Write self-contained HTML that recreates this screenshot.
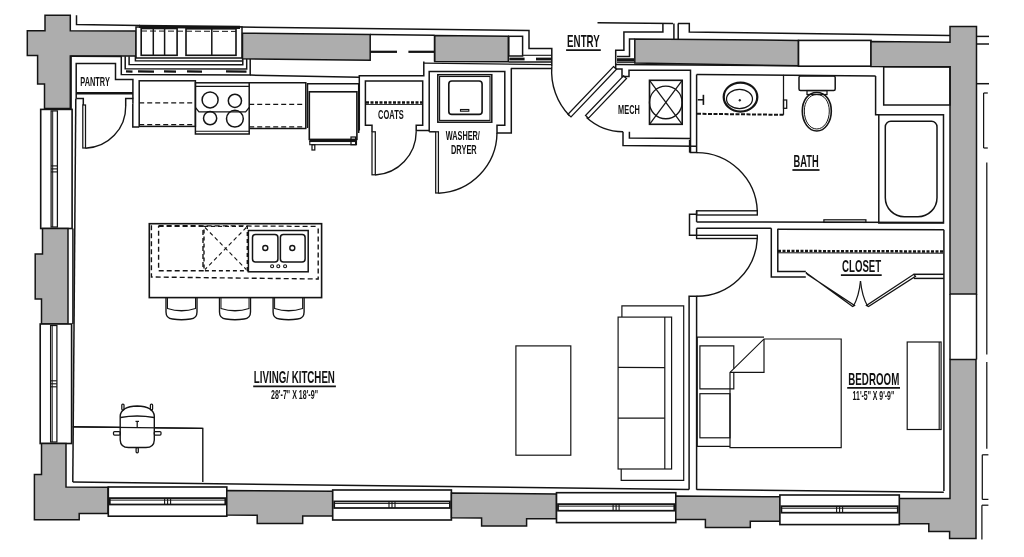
<!DOCTYPE html>
<html><head><meta charset="utf-8"><style>
html,body{margin:0;padding:0;background:#fff;}
svg{display:block;filter:grayscale(100%);}
text{font-family:"Liberation Sans",sans-serif;fill:#111;}
</style></head><body>
<svg width="1024" height="557" viewBox="0 0 1024 557">
<defs>
<pattern id="st" width="6" height="6" patternUnits="userSpaceOnUse">
<rect width="6" height="6" fill="#adadad"/>
</pattern>
</defs>
<rect width="1024" height="557" fill="#fff"/>
<polygon points="45,15.3 70.3,15.3 70.3,30.7 136,31 136,56 70.3,56 70.3,108.5 44.5,108.5 44.5,84 37.6,84 37.6,55.5 27.3,55.5 27.3,30.7 45,30.7" fill="url(#st)" stroke="#141414" stroke-width="1.50"/>
<polyline points="76.5,15.3 76.5,24.4 140,25.6" fill="none" stroke="#141414" stroke-width="1.50"/>
<polyline points="240,27 529,30.4 529,48.6 551.8,48.6 551.8,66.5" fill="none" stroke="#141414" stroke-width="1.50"/>
<rect x="136" y="27" width="106" height="31" fill="#fff" stroke="#141414" stroke-width="1.50"/>
<line x1="139" y1="26.4" x2="240" y2="27.4" stroke="#141414" stroke-width="3.25"/>
<rect x="141.2" y="28.5" width="35.9" height="26.8" fill="none" stroke="#141414" stroke-width="1.62"/>
<line x1="153.3" y1="28.5" x2="153.3" y2="55.3" stroke="#141414" stroke-width="1.50"/>
<line x1="164.6" y1="28.5" x2="164.6" y2="55.3" stroke="#141414" stroke-width="1.50"/>
<rect x="186" y="28.8" width="50" height="26.5" fill="none" stroke="#141414" stroke-width="1.62"/>
<line x1="211.8" y1="28.8" x2="211.8" y2="55.3" stroke="#141414" stroke-width="1.50"/>
<line x1="141" y1="31" x2="236" y2="31.4" stroke="#141414" stroke-width="1.00" stroke-dasharray="6,3"/>
<polyline points="121.3,56.3 121.3,74.6 250.2,74.9 250.2,58.8" fill="none" stroke="#141414" stroke-width="1.50"/>
<polyline points="125.2,56.3 125.2,68.8 246.7,69.1 246.7,58.8" fill="none" stroke="#141414" stroke-width="1.50"/>
<polyline points="129.1,56.3 129.1,64.4 242.8,64.7 242.8,58.8" fill="none" stroke="#141414" stroke-width="1.50"/>
<polyline points="135.4,56 135.4,60.7 242.8,60.9" fill="none" stroke="#141414" stroke-width="1.50"/>
<line x1="126" y1="71.4" x2="132.5" y2="71.6" stroke="#141414" stroke-width="2.25"/>
<line x1="138" y1="71.4" x2="154" y2="71.6" stroke="#141414" stroke-width="2.25"/>
<line x1="164" y1="71.4" x2="176" y2="71.6" stroke="#141414" stroke-width="2.25"/>
<line x1="187" y1="71.4" x2="202" y2="71.6" stroke="#141414" stroke-width="2.25"/>
<line x1="226" y1="71.4" x2="246.5" y2="71.6" stroke="#141414" stroke-width="2.25"/>
<polygon points="242.5,33.2 370.2,34.6 370.2,60.3 242.5,58.8" fill="url(#st)" stroke="#141414" stroke-width="1.50"/>
<line x1="370.2" y1="34.6" x2="434.5" y2="35.3" stroke="#141414" stroke-width="1.50"/>
<line x1="370.2" y1="51.8" x2="397" y2="51.8" stroke="#141414" stroke-width="2.25"/>
<line x1="408.4" y1="51.8" x2="434.5" y2="51.8" stroke="#141414" stroke-width="2.25"/>
<line x1="434.5" y1="35.3" x2="434.5" y2="61.7" stroke="#141414" stroke-width="1.50"/>
<polygon points="434.8,35.4 508.3,36.3 508.3,61.8 434.8,61.4" fill="url(#st)" stroke="#141414" stroke-width="1.50"/>
<rect x="508.8" y="36.3" width="13.8" height="19.7" fill="none" stroke="#141414" stroke-width="1.50"/>
<line x1="522.6" y1="55.3" x2="551.8" y2="55.3" stroke="#141414" stroke-width="1.12"/>
<line x1="509.3" y1="59" x2="524.6" y2="59" stroke="#141414" stroke-width="2.75"/>
<line x1="536" y1="59" x2="551.8" y2="59" stroke="#141414" stroke-width="2.75"/>
<line x1="508.8" y1="62" x2="551.8" y2="62" stroke="#141414" stroke-width="1.50"/>
<line x1="510.8" y1="68.4" x2="551.8" y2="68.4" stroke="#141414" stroke-width="1.50"/>
<polyline points="597.5,22.8 673,23.5" fill="none" stroke="#141414" stroke-width="1.50"/>
<line x1="673.9" y1="23.5" x2="673.9" y2="38.9" stroke="#141414" stroke-width="1.50"/>
<line x1="678.2" y1="23.5" x2="678.2" y2="38.9" stroke="#141414" stroke-width="1.50"/>
<polyline points="678,23.5 689.3,23.5 689.3,32 950,35.4" fill="none" stroke="#141414" stroke-width="1.50"/>
<polyline points="662.9,23.5 662.9,32 623.9,32 623.9,50.2 615.7,50.2 615.7,69" fill="none" stroke="#141414" stroke-width="1.50"/>
<polyline points="617,56.5 629.5,56.5 629.5,38.9 634.6,38.9" fill="none" stroke="#141414" stroke-width="1.50"/>
<line x1="617" y1="59.6" x2="634" y2="59.6" stroke="#141414" stroke-width="2.75"/>
<line x1="617" y1="62.1" x2="634.6" y2="62.1" stroke="#141414" stroke-width="1.50"/>
<line x1="615.7" y1="64.5" x2="950" y2="66.8" stroke="#141414" stroke-width="1.50"/>
<polygon points="634.8,38.9 798.5,40.4 798.5,65.8 634.8,63" fill="url(#st)" stroke="#141414" stroke-width="1.50"/>
<rect x="798.5" y="40.4" width="72.5" height="25.8" fill="#fff" stroke="#141414" stroke-width="1.62"/>
<polygon points="871,41.5 950,42.2 950,26.4 976.5,26.4 976.5,294 950,294 950,66.8 871,66.6" fill="url(#st)" stroke="#141414" stroke-width="1.50"/>
<polygon points="950,359.5 976,359.5 976,538.6 949.6,538.6 949.6,531.5 928.8,531.5 928.8,523.8 899.3,523.8 899.3,498.4 950,498.4" fill="url(#st)" stroke="#141414" stroke-width="1.50"/>
<line x1="950" y1="294" x2="950" y2="359.5" stroke="#141414" stroke-width="1.50"/>
<line x1="976.5" y1="294" x2="976.5" y2="359.5" stroke="#141414" stroke-width="1.50"/>
<line x1="976.5" y1="36.4" x2="989" y2="36.4" stroke="#141414" stroke-width="1.50"/>
<line x1="976.5" y1="44" x2="989" y2="44" stroke="#141414" stroke-width="1.50"/>
<line x1="976.5" y1="83.7" x2="989" y2="83.7" stroke="#141414" stroke-width="1.50"/>
<line x1="983.6" y1="93" x2="983.6" y2="148" stroke="#141414" stroke-width="1.25"/>
<line x1="983.6" y1="93" x2="987.8" y2="93" stroke="#141414" stroke-width="1.25"/>
<line x1="983.6" y1="148" x2="987.8" y2="148" stroke="#141414" stroke-width="1.25"/>
<line x1="986.8" y1="162.6" x2="986.8" y2="354.5" stroke="#141414" stroke-width="1.25"/>
<line x1="986.8" y1="362" x2="986.8" y2="448.8" stroke="#141414" stroke-width="1.25"/>
<line x1="982.3" y1="454.8" x2="982.3" y2="499.4" stroke="#141414" stroke-width="1.25"/>
<line x1="982.3" y1="454.8" x2="988.4" y2="454.8" stroke="#141414" stroke-width="1.25"/>
<line x1="982.3" y1="499.4" x2="988.4" y2="499.4" stroke="#141414" stroke-width="1.25"/>
<line x1="981.9" y1="505.2" x2="981.9" y2="539.6" stroke="#141414" stroke-width="1.25"/>
<line x1="981.9" y1="505.2" x2="988.4" y2="505.2" stroke="#141414" stroke-width="1.25"/>
<rect x="40.7" y="109.4" width="31.4" height="119.1" fill="#fff" stroke="#141414" stroke-width="1.62"/>
<rect x="51.1" y="110.9" width="6.3" height="116.1" fill="none" stroke="#141414" stroke-width="1.25"/>
<line x1="52.7" y1="110.9" x2="52.7" y2="227" stroke="#141414" stroke-width="1.00"/>
<line x1="51.1" y1="165.9" x2="57.3" y2="165.9" stroke="#141414" stroke-width="1.12"/>
<line x1="51.1" y1="168.9" x2="57.3" y2="168.9" stroke="#141414" stroke-width="1.12"/>
<line x1="51.1" y1="171.9" x2="57.3" y2="171.9" stroke="#141414" stroke-width="1.12"/>
<polygon points="42.5,228.5 68,228.5 68,324 41.5,324 41.5,299 35.2,299 35.2,254 42.5,254" fill="url(#st)" stroke="#141414" stroke-width="1.50"/>
<rect x="40.2" y="324" width="31.4" height="119.5" fill="#fff" stroke="#141414" stroke-width="1.62"/>
<rect x="50.6" y="325.5" width="6.3" height="116.5" fill="none" stroke="#141414" stroke-width="1.25"/>
<line x1="52.2" y1="325.5" x2="52.2" y2="442" stroke="#141414" stroke-width="1.00"/>
<line x1="50.6" y1="380.8" x2="56.8" y2="380.8" stroke="#141414" stroke-width="1.12"/>
<line x1="50.6" y1="383.8" x2="56.8" y2="383.8" stroke="#141414" stroke-width="1.12"/>
<line x1="50.6" y1="386.8" x2="56.8" y2="386.8" stroke="#141414" stroke-width="1.12"/>
<polygon points="41.5,443.5 66,443.5 66,487 108,487.2 108,513.5 79.2,513.5 79.2,519.8 34.4,519.8 34.4,474.5 41.5,474.5" fill="url(#st)" stroke="#141414" stroke-width="1.50"/>
<rect x="108.3" y="487" width="118.5" height="29.2" fill="#fff" stroke="#141414" stroke-width="1.62"/>
<rect x="109.8" y="498.1" width="115.5" height="6.4" fill="none" stroke="#141414" stroke-width="1.75"/>
<line x1="109.8" y1="500.1" x2="225.3" y2="500.1" stroke="#141414" stroke-width="1.00"/>
<line x1="164.6" y1="498.1" x2="164.6" y2="504.5" stroke="#141414" stroke-width="1.12"/>
<line x1="167.6" y1="498.1" x2="167.6" y2="504.5" stroke="#141414" stroke-width="1.12"/>
<line x1="170.6" y1="498.1" x2="170.6" y2="504.5" stroke="#141414" stroke-width="1.12"/>
<polygon points="226.8,490.5 332.7,491.3 332.7,516 302.7,516 302.7,523.4 257.2,523.4 257.2,515.2 226.8,515" fill="url(#st)" stroke="#141414" stroke-width="1.50"/>
<rect x="332.7" y="490" width="118.7" height="30" fill="#fff" stroke="#141414" stroke-width="1.62"/>
<rect x="334.2" y="501.4" width="115.7" height="6.6" fill="none" stroke="#141414" stroke-width="1.75"/>
<line x1="334.2" y1="503.4" x2="449.9" y2="503.4" stroke="#141414" stroke-width="1.00"/>
<line x1="389" y1="501.4" x2="389" y2="508" stroke="#141414" stroke-width="1.12"/>
<line x1="392" y1="501.4" x2="392" y2="508" stroke="#141414" stroke-width="1.12"/>
<line x1="395" y1="501.4" x2="395" y2="508" stroke="#141414" stroke-width="1.12"/>
<polygon points="451.4,493 556.5,494 556.5,518.7 526.6,518.7 526.6,526 481.6,526 481.6,518 451.4,517.8" fill="url(#st)" stroke="#141414" stroke-width="1.50"/>
<rect x="556.5" y="492.7" width="119.3" height="29.9" fill="#fff" stroke="#141414" stroke-width="1.62"/>
<rect x="558" y="504.1" width="116.3" height="6.6" fill="none" stroke="#141414" stroke-width="1.75"/>
<line x1="558" y1="506.1" x2="674.3" y2="506.1" stroke="#141414" stroke-width="1.00"/>
<line x1="613.1" y1="504.1" x2="613.1" y2="510.6" stroke="#141414" stroke-width="1.12"/>
<line x1="616.1" y1="504.1" x2="616.1" y2="510.6" stroke="#141414" stroke-width="1.12"/>
<line x1="619.1" y1="504.1" x2="619.1" y2="510.6" stroke="#141414" stroke-width="1.12"/>
<polygon points="675.8,496 779.9,496.8 779.9,521.3 750.3,521.3 750.3,527.6 705.4,527.6 705.4,519.6 675.8,519.4" fill="url(#st)" stroke="#141414" stroke-width="1.50"/>
<rect x="779.9" y="495" width="119.4" height="29.6" fill="#fff" stroke="#141414" stroke-width="1.62"/>
<rect x="781.4" y="506.2" width="116.4" height="6.5" fill="none" stroke="#141414" stroke-width="1.75"/>
<line x1="781.4" y1="508.2" x2="897.8" y2="508.2" stroke="#141414" stroke-width="1.00"/>
<line x1="836.6" y1="506.2" x2="836.6" y2="512.8" stroke="#141414" stroke-width="1.12"/>
<line x1="839.6" y1="506.2" x2="839.6" y2="512.8" stroke="#141414" stroke-width="1.12"/>
<line x1="842.6" y1="506.2" x2="842.6" y2="512.8" stroke="#141414" stroke-width="1.12"/>
<polyline points="71.1,56 71.1,110" fill="none" stroke="#141414" stroke-width="1.50"/>
<line x1="72.9" y1="228.5" x2="72.9" y2="324" stroke="#141414" stroke-width="1.50"/>
<polyline points="70.5,56.2 121.4,56.5" fill="none" stroke="#141414" stroke-width="1.50"/>
<polyline points="76.2,98.4 76.2,63.5 115.5,63.5 115.5,79.6 132.9,79.6 132.9,98.4" fill="none" stroke="#141414" stroke-width="1.50"/>
<line x1="76.2" y1="93.2" x2="132.9" y2="93.2" stroke="#141414" stroke-width="2.50"/>
<polyline points="76.2,98.6 83.3,98.6 83.3,105.1" fill="none" stroke="#141414" stroke-width="1.50"/>
<polyline points="125.7,106 125.7,98.4 132.9,98.4 132.9,103.8" fill="none" stroke="#141414" stroke-width="1.50"/>
<rect x="82.8" y="105" width="2.7" height="43" fill="none" stroke="#141414" stroke-width="1.25"/>
<path d="M85.5,148.2 A41.5,41.5 0 0 0 125.7,106" fill="none" stroke="#141414" stroke-width="1.38"/>
<line x1="250.2" y1="75.1" x2="359.3" y2="77.2" stroke="#141414" stroke-width="1.50"/>
<rect x="139.2" y="80.8" width="56.2" height="45.6" fill="none" stroke="#141414" stroke-width="1.50"/>
<polyline points="132.8,103.8 132.8,127 139.2,127" fill="none" stroke="#141414" stroke-width="1.50"/>
<line x1="139.2" y1="102.8" x2="195.4" y2="102.8" stroke="#141414" stroke-width="1.25" stroke-dasharray="5,3"/>
<line x1="139.2" y1="124.6" x2="195.4" y2="124.6" stroke="#141414" stroke-width="1.25" stroke-dasharray="5,3"/>
<rect x="195.4" y="82.8" width="53.8" height="51.2" fill="none" stroke="#141414" stroke-width="1.50"/>
<line x1="195.4" y1="86.4" x2="249.2" y2="86.4" stroke="#141414" stroke-width="1.12"/>
<line x1="195.4" y1="131.3" x2="249.2" y2="131.3" stroke="#141414" stroke-width="1.12"/>
<polyline points="195.4,107.5 199,111.8 245.6,111.8 249.2,107.5" fill="none" stroke="#141414" stroke-width="1.25"/>
<circle cx="210.1" cy="99.9" r="8" fill="none" stroke="#141414" stroke-width="1.50"/>
<circle cx="234.9" cy="100.8" r="6.6" fill="none" stroke="#141414" stroke-width="1.50"/>
<circle cx="210.1" cy="118.2" r="6.6" fill="none" stroke="#141414" stroke-width="1.50"/>
<circle cx="234.9" cy="118.7" r="8.4" fill="none" stroke="#141414" stroke-width="1.50"/>
<polyline points="249.2,82.8 305.8,82.8 305.8,128.5 249.2,128.5" fill="none" stroke="#141414" stroke-width="1.50"/>
<line x1="249.2" y1="104.4" x2="305.8" y2="104.4" stroke="#141414" stroke-width="1.25" stroke-dasharray="5,3"/>
<line x1="249.2" y1="126.8" x2="305.8" y2="126.8" stroke="#141414" stroke-width="1.25" stroke-dasharray="5,3"/>
<polyline points="307.5,128 307.5,83.7 358.7,83.7 358.7,133" fill="none" stroke="#141414" stroke-width="1.50"/>
<rect x="309.3" y="91.8" width="47.6" height="47.6" fill="none" stroke="#141414" stroke-width="1.62"/>
<line x1="309.3" y1="140.8" x2="356.9" y2="140.8" stroke="#141414" stroke-width="2.50"/>
<rect x="309.8" y="141.5" width="46.7" height="3.2" fill="none" stroke="#141414" stroke-width="1.12"/>
<rect x="312" y="144.7" width="2.8" height="5.3" fill="none" stroke="#141414" stroke-width="1.25"/>
<rect x="351" y="137" width="4.6" height="7.7" fill="none" stroke="#141414" stroke-width="1.25"/>
<polyline points="359.3,130.5 359.3,75.7 423.8,75.7 423.8,61.5" fill="none" stroke="#141414" stroke-width="1.50"/>
<line x1="424" y1="63.1" x2="551.8" y2="64.6" stroke="#141414" stroke-width="1.25"/>
<polyline points="372,131.8 372,125.3 365.4,125.3 365.4,81 422.7,81 422.7,125.3 416.2,125.3 416.2,131.8" fill="none" stroke="#141414" stroke-width="1.50"/>
<line x1="366" y1="102.5" x2="422" y2="102.5" stroke="#141414" stroke-width="2.50" stroke-dasharray="3,1.5"/>
<line x1="366" y1="104.5" x2="422" y2="104.5" stroke="#141414" stroke-width="0.88"/>
<line x1="416.2" y1="130.5" x2="429.2" y2="130.5" stroke="#141414" stroke-width="1.50"/>
<rect x="372" y="131.8" width="3.3" height="43" fill="none" stroke="#141414" stroke-width="1.25"/>
<path d="M375.3,175 A43.5,43.5 0 0 0 416.2,131.8" fill="none" stroke="#141414" stroke-width="1.38"/>
<polyline points="429.2,131.8 429.2,71.6 504.8,71.6 504.8,125.3 497,125.3 497,133.1 511.3,133.1 511.3,68.4" fill="none" stroke="#141414" stroke-width="1.50"/>
<rect x="437.8" y="74.7" width="54" height="47.5" fill="none" stroke="#141414" stroke-width="1.50"/>
<rect x="439.6" y="76.5" width="50.4" height="43.9" fill="none" stroke="#141414" stroke-width="1.12"/>
<rect x="448.8" y="81" width="33.3" height="33.4" fill="none" stroke="#141414" stroke-width="1.62" rx="3"/>
<rect x="460.5" y="109.5" width="8.3" height="1.7" fill="none" stroke="#141414" stroke-width="1.12"/>
<polyline points="429.2,131.8 435.7,131.8" fill="none" stroke="#141414" stroke-width="1.50"/>
<rect x="435.7" y="131.8" width="2.7" height="61.2" fill="none" stroke="#141414" stroke-width="1.25"/>
<path d="M438.4,193.2 A61,61 0 0 0 497,133.1" fill="none" stroke="#141414" stroke-width="1.38"/>
<polygon points="613.5,66.5 616.5,69.2 571,117 568,114.3" fill="none" stroke="#141414" stroke-width="1.25"/>
<path d="M551.8,66.5 A64,64 0 0 0 569.5,115.7" fill="none" stroke="#141414" stroke-width="1.38"/>
<polyline points="615.7,69 622,69 622,76.6 629,76.6 629,70.3 690.5,70.3 690.5,152.6 696.6,152.6 696.6,74.4" fill="none" stroke="#141414" stroke-width="1.50"/>
<polygon points="623.5,75.8 626.5,78.5 588.5,118.2 585.5,115.5" fill="none" stroke="#141414" stroke-width="1.25"/>
<path d="M586.5,117.5 A55,55 0 0 0 623,131.8" fill="none" stroke="#141414" stroke-width="1.38"/>
<polyline points="623,131.8 623,145.6 696.6,146.2" fill="none" stroke="#141414" stroke-width="1.50"/>
<polyline points="629.4,131.8 629.4,138 690.5,138.5" fill="none" stroke="#141414" stroke-width="1.50"/>
<rect x="649.5" y="80.3" width="32.7" height="44" fill="none" stroke="#141414" stroke-width="1.62"/>
<circle cx="665.8" cy="102.4" r="16.3" fill="none" stroke="#141414" stroke-width="1.38"/>
<line x1="649.5" y1="80.3" x2="682.2" y2="124.3" stroke="#141414" stroke-width="1.25"/>
<line x1="682.2" y1="80.3" x2="649.5" y2="124.3" stroke="#141414" stroke-width="1.25"/>
<line x1="696.6" y1="74.4" x2="875.6" y2="76" stroke="#141414" stroke-width="1.50"/>
<line x1="783.5" y1="74.8" x2="783.5" y2="114.8" stroke="#141414" stroke-width="1.25"/>
<line x1="697" y1="113.8" x2="783.5" y2="114.8" stroke="#141414" stroke-width="2.00" stroke-dasharray="4,1.5"/>
<rect x="783.5" y="100" width="3.2" height="8.3" fill="none" stroke="#141414" stroke-width="1.25"/>
<line x1="703.4" y1="94.8" x2="703.4" y2="104.9" stroke="#141414" stroke-width="1.62"/>
<line x1="697.7" y1="99.8" x2="703.4" y2="99.8" stroke="#141414" stroke-width="1.50"/>
<ellipse cx="740.5" cy="97" rx="16.8" ry="14.5" fill="none" stroke="#141414" stroke-width="2.25"/>
<ellipse cx="739.5" cy="99" rx="13" ry="9.7" fill="none" stroke="#141414" stroke-width="1.25"/>
<circle cx="739.8" cy="100.3" r="0.8" fill="#222" stroke="#141414" stroke-width="1.00"/>
<rect x="799" y="76" width="36.2" height="14.6" fill="none" stroke="#141414" stroke-width="1.50" rx="1.5"/>
<rect x="807" y="90.6" width="20" height="3.9" fill="none" stroke="#141414" stroke-width="1.25"/>
<path d="M816.8,92.5 C826,92.5 831.3,101 831.3,111 C831.3,122 825,131 816.8,131 C808.6,131 802.3,122 802.3,111 C802.3,101 807.6,92.5 816.8,92.5 Z" fill="none" stroke="#141414" stroke-width="1.62"/>
<path d="M816.8,94.5 C824.5,94.5 829.3,102 829.3,111 C829.3,121 824,129 816.8,129 C809.6,129 804.3,121 804.3,111 C804.3,102 809.1,94.5 816.8,94.5 Z" fill="none" stroke="#141414" stroke-width="1.00"/>
<polyline points="875.6,76 875.6,114.8 878.8,114.8" fill="none" stroke="#141414" stroke-width="1.50"/>
<rect x="878.8" y="114.8" width="64.7" height="108.2" fill="none" stroke="#141414" stroke-width="1.50"/>
<path d="M885.3,127 A5.5,5.5 0 0 1 890.8,121.3 H931.5 A5.5,5.5 0 0 1 937,127 V197.7 A19,19 0 0 1 918,216.7 H904.3 A19,19 0 0 1 885.3,197.7 Z" fill="none" stroke="#141414" stroke-width="1.50"/>
<rect x="883.7" y="66.8" width="66.3" height="38.2" fill="none" stroke="#141414" stroke-width="1.50"/>
<line x1="696.6" y1="221.9" x2="943.9" y2="222.4" stroke="#141414" stroke-width="1.50"/>
<rect x="823.9" y="219.8" width="42" height="2.6" fill="none" stroke="#141414" stroke-width="1.25"/>
<rect x="696.6" y="210.8" width="60.7" height="4.2" fill="none" stroke="#141414" stroke-width="1.38"/>
<path d="M696.6,152.6 A60.7,60.7 0 0 1 757.3,211" fill="none" stroke="#141414" stroke-width="1.38"/>
<polyline points="696.6,214.3 689.5,214.3 689.5,235.3 696.6,235.3" fill="none" stroke="#141414" stroke-width="1.50"/>
<line x1="689.6" y1="140" x2="689.6" y2="152.6" stroke="#141414" stroke-width="1.50"/>
<polyline points="696.6,221.9 696.6,210.8" fill="none" stroke="#141414" stroke-width="1.50"/>
<line x1="696.6" y1="228.3" x2="771.3" y2="228.3" stroke="#141414" stroke-width="1.50"/>
<line x1="696.6" y1="228.3" x2="696.6" y2="235.3" stroke="#141414" stroke-width="1.50"/>
<rect x="696.6" y="235.3" width="60.7" height="3.2" fill="none" stroke="#141414" stroke-width="1.38"/>
<path d="M757.3,238.5 A60.7,60.7 0 0 1 696.6,296.3" fill="none" stroke="#141414" stroke-width="1.38"/>
<polyline points="689.1,489.5 689.1,296.3 696.6,296.3 696.6,489.8" fill="none" stroke="#141414" stroke-width="1.50"/>
<polyline points="771.3,228.3 771.3,277 805.8,277" fill="none" stroke="#141414" stroke-width="1.50"/>
<polyline points="777.8,228.8 777.8,271.5 805.8,271.5" fill="none" stroke="#141414" stroke-width="1.50"/>
<line x1="777.8" y1="229.2" x2="943.9" y2="229.7" stroke="#141414" stroke-width="1.50"/>
<line x1="778" y1="251" x2="943" y2="251.5" stroke="#141414" stroke-width="2.50" stroke-dasharray="3,1.5"/>
<line x1="778" y1="252.8" x2="943" y2="253.2" stroke="#141414" stroke-width="1.00"/>
<polygon points="805.8,272.5 807.6,274.5 854.5,305.5 852.6,306.5" fill="none" stroke="#141414" stroke-width="1.25"/>
<polygon points="913.8,274.3 915.5,276.3 868.5,306.5 866.5,305.5" fill="none" stroke="#141414" stroke-width="1.25"/>
<path d="M860.5,281 Q859,296 853.5,306" fill="none" stroke="#141414" stroke-width="1.25"/>
<path d="M860.5,281 Q862,296 867.5,306" fill="none" stroke="#141414" stroke-width="1.25"/>
<polyline points="913.8,274.3 943.9,274.3" fill="none" stroke="#141414" stroke-width="1.50"/>
<polyline points="913.8,278.4 943.9,278.4" fill="none" stroke="#141414" stroke-width="1.50"/>
<line x1="943.9" y1="229.7" x2="943.9" y2="491" stroke="#141414" stroke-width="1.50"/>
<line x1="696.6" y1="489.5" x2="943.8" y2="492.3" stroke="#141414" stroke-width="1.50"/>
<polyline points="764,337.1 697.2,337.1 697.2,446.4 730,446.4" fill="none" stroke="#141414" stroke-width="1.19"/>
<polygon points="764,339 841.2,339 841.2,447.6 730,447.6 730,372.4" fill="none" stroke="#141414" stroke-width="1.19"/>
<polyline points="764,339 764,372.4 730,372.4" fill="none" stroke="#141414" stroke-width="1.19"/>
<polyline points="733.8,372.4 733.8,388.8 699.9,388.8 699.9,345.8 733.8,345.8 733.8,368.7" fill="none" stroke="#141414" stroke-width="1.19"/>
<rect x="699.9" y="393.7" width="30.1" height="44.1" fill="none" stroke="#141414" stroke-width="1.19"/>
<rect x="907.2" y="342" width="33.9" height="87.5" fill="none" stroke="#141414" stroke-width="1.19"/>
<line x1="939.2" y1="342" x2="939.2" y2="429.5" stroke="#141414" stroke-width="1.12"/>
<polyline points="621.9,317.1 621.9,305.8 683.7,305.8 683.7,480.4 621.2,480.4 621.2,469" fill="none" stroke="#141414" stroke-width="1.19"/>
<rect x="618.1" y="317.1" width="53.5" height="151.9" fill="none" stroke="#141414" stroke-width="1.19"/>
<line x1="664.8" y1="317.1" x2="664.8" y2="469" stroke="#141414" stroke-width="1.19"/>
<line x1="618.1" y1="367.3" x2="664.8" y2="367.6" stroke="#141414" stroke-width="1.19"/>
<line x1="618.1" y1="418.2" x2="664.8" y2="418.2" stroke="#141414" stroke-width="1.19"/>
<rect x="515.9" y="345.9" width="54.9" height="109.3" fill="none" stroke="#141414" stroke-width="1.19"/>
<rect x="149.3" y="223.7" width="172.3" height="73.9" fill="none" stroke="#141414" stroke-width="1.62"/>
<polyline points="151.4,225.3 151.4,277 318.2,279 318.2,226" fill="none" stroke="#141414" stroke-width="1.38" stroke-dasharray="5,3"/>
<rect x="158.6" y="226.4" width="44.4" height="44.3" fill="none" stroke="#141414" stroke-width="1.38" stroke-dasharray="5,3"/>
<rect x="204" y="226.4" width="43.3" height="44.3" fill="none" stroke="#141414" stroke-width="1.38" stroke-dasharray="4,3"/>
<line x1="205" y1="227.5" x2="246.3" y2="269.5" stroke="#141414" stroke-width="1.12" stroke-dasharray="4,3"/>
<line x1="246.3" y1="227.5" x2="205" y2="269.5" stroke="#141414" stroke-width="1.12" stroke-dasharray="4,3"/>
<line x1="158.6" y1="225.5" x2="318" y2="226.4" stroke="#141414" stroke-width="1.25" stroke-dasharray="5,3"/>
<rect x="248.4" y="230.5" width="59.8" height="41.3" fill="none" stroke="#141414" stroke-width="1.50"/>
<rect x="252.5" y="234.6" width="25.4" height="27.5" fill="none" stroke="#141414" stroke-width="1.50" rx="3"/>
<rect x="280.4" y="234.6" width="24.7" height="27.5" fill="none" stroke="#141414" stroke-width="1.50" rx="3"/>
<circle cx="265.3" cy="248" r="2.5" fill="none" stroke="#141414" stroke-width="1.38"/>
<circle cx="292.3" cy="248" r="2.5" fill="none" stroke="#141414" stroke-width="1.38"/>
<circle cx="272.1" cy="266.2" r="1.5" fill="none" stroke="#141414" stroke-width="1.12"/>
<circle cx="278.3" cy="266.2" r="1.5" fill="none" stroke="#141414" stroke-width="1.12"/>
<circle cx="285.1" cy="266.2" r="1.5" fill="none" stroke="#141414" stroke-width="1.12"/>
<path d="M166.0,297.6 V312 Q166.0,318.5 172.5,319 Q181.5,320.5 190.5,319 Q197.0,318.5 197.0,312 V297.6" fill="none" stroke="#141414" stroke-width="1.38"/>
<line x1="167.5" y1="298" x2="167.5" y2="309" stroke="#141414" stroke-width="1.00"/>
<line x1="195.5" y1="298" x2="195.5" y2="309" stroke="#141414" stroke-width="1.00"/>
<path d="M167.5,308.5 Q181.5,313 195.5,308.5" fill="none" stroke="#141414" stroke-width="1.25"/>
<path d="M219.5,297.6 V312 Q219.5,318.5 226,319 Q235,320.5 244,319 Q250.5,318.5 250.5,312 V297.6" fill="none" stroke="#141414" stroke-width="1.38"/>
<line x1="221" y1="298" x2="221" y2="309" stroke="#141414" stroke-width="1.00"/>
<line x1="249" y1="298" x2="249" y2="309" stroke="#141414" stroke-width="1.00"/>
<path d="M221,308.5 Q235,313 249,308.5" fill="none" stroke="#141414" stroke-width="1.25"/>
<path d="M273.1,297.6 V312 Q273.1,318.5 279.6,319 Q288.6,320.5 297.6,319 Q304.1,318.5 304.1,312 V297.6" fill="none" stroke="#141414" stroke-width="1.38"/>
<line x1="274.6" y1="298" x2="274.6" y2="309" stroke="#141414" stroke-width="1.00"/>
<line x1="302.6" y1="298" x2="302.6" y2="309" stroke="#141414" stroke-width="1.00"/>
<path d="M274.6,308.5 Q288.6,313 302.6,308.5" fill="none" stroke="#141414" stroke-width="1.25"/>
<polyline points="72.8,426.8 202.8,428.4 202.8,481.9" fill="none" stroke="#141414" stroke-width="1.38"/>
<path d="M120.2,416 Q121,406.5 137.2,406 Q153.5,406.5 154.3,416 V440 Q154,447.5 146,447.5 H128.5 Q120.5,447.5 120.2,440 Z" fill="#fff" stroke="#141414" stroke-width="1.38"/>
<path d="M120.5,417.5 Q137,414.5 154,417.5" fill="none" stroke="#141414" stroke-width="1.62"/>
<line x1="72.8" y1="426.8" x2="202.8" y2="428.4" stroke="#141414" stroke-width="1.25"/>
<line x1="137.2" y1="421.4" x2="137.2" y2="427.7" stroke="#141414" stroke-width="1.25"/>
<line x1="135.5" y1="421.4" x2="139" y2="421.4" stroke="#141414" stroke-width="1.25"/>
<rect x="113.5" y="431.5" width="6.7" height="3.5" fill="none" stroke="#141414" stroke-width="1.25" rx="1"/>
<rect x="154.3" y="431.5" width="6.7" height="3.5" fill="none" stroke="#141414" stroke-width="1.25" rx="1"/>
<rect x="121.8" y="404" width="2.2" height="6" fill="none" stroke="#141414" stroke-width="1.25" rx="1"/>
<rect x="150.4" y="404" width="2.2" height="6" fill="none" stroke="#141414" stroke-width="1.25" rx="1"/>
<rect x="136.1" y="447.5" width="2.2" height="5.3" fill="none" stroke="#141414" stroke-width="1.25" rx="1"/>
<line x1="75.8" y1="98.6" x2="72.8" y2="482" stroke="#141414" stroke-width="1.50"/>
<line x1="72.8" y1="482" x2="689.1" y2="489.5" stroke="#141414" stroke-width="1.50"/>
<text x="80.3" y="85.5" font-size="11.92" textLength="29.5" lengthAdjust="spacingAndGlyphs" font-weight="bold">PANTRY</text>
<text x="378.1" y="119.4" font-size="12.06" textLength="25.6" lengthAdjust="spacingAndGlyphs" font-weight="bold">COATS</text>
<text x="445.7" y="140.4" font-size="12.79" textLength="34.2" lengthAdjust="spacingAndGlyphs" font-weight="bold">WASHER/</text>
<text x="451" y="153.9" font-size="12.79" textLength="25.7" lengthAdjust="spacingAndGlyphs" font-weight="bold">DRYER</text>
<text x="567.1" y="47.3" font-size="17.01" textLength="32.7" lengthAdjust="spacingAndGlyphs" font-weight="bold">ENTRY</text>
<line x1="566.1" y1="50" x2="600.8" y2="50" stroke="#141414" stroke-width="1.75"/>
<text x="618.1" y="113.9" font-size="12.79" textLength="21.7" lengthAdjust="spacingAndGlyphs" font-weight="bold">MECH</text>
<text x="793.5" y="166.8" font-size="15.99" textLength="25.1" lengthAdjust="spacingAndGlyphs" font-weight="bold">BATH</text>
<line x1="792.4" y1="170" x2="819.5" y2="170" stroke="#141414" stroke-width="1.75"/>
<text x="842" y="272.2" font-size="15.99" textLength="39.2" lengthAdjust="spacingAndGlyphs" font-weight="bold">CLOSET</text>
<line x1="840.9" y1="275.1" x2="881.7" y2="275.1" stroke="#141414" stroke-width="1.75"/>
<text x="848.3" y="384.8" font-size="15.70" textLength="51" lengthAdjust="spacingAndGlyphs" font-weight="bold">BEDROOM</text>
<line x1="847.2" y1="387.8" x2="900" y2="387.8" stroke="#141414" stroke-width="1.75"/>
<text x="852.6" y="400.2" font-size="12.50" textLength="41.6" lengthAdjust="spacingAndGlyphs" font-weight="bold">11'-5" X 9'-9"</text>
<text x="253.8" y="382.9" font-size="16.13" textLength="81.1" lengthAdjust="spacingAndGlyphs" font-weight="bold">LIVING/ KITCHEN</text>
<line x1="253.2" y1="386.4" x2="335.9" y2="386.4" stroke="#141414" stroke-width="1.75"/>
<text x="271" y="398.7" font-size="12.35" textLength="47" lengthAdjust="spacingAndGlyphs" font-weight="bold">28'-7" X 18'-9"</text>
</svg>
</body></html>
